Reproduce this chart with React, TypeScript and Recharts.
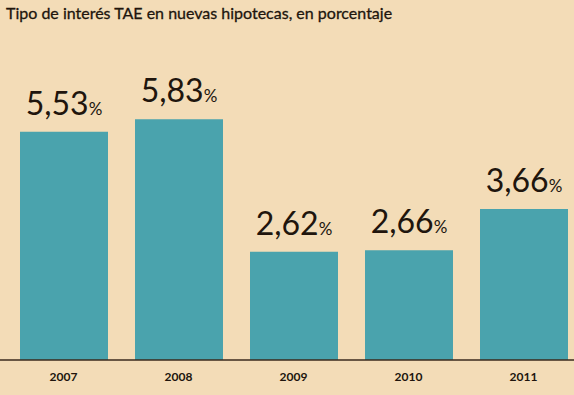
import { BarChart, Bar, XAxis, YAxis, LabelList } from "recharts";

const years = ["2007", "2008", "2009", "2010", "2011"];
const rates = [5.53, 5.83, 2.62, 2.66, 3.66];

const data = years.map((year, i) => ({ year, rate: rates[i] }));

const BG = "#f3dcb7";
const TEAL = "#4aa3ad";
const INK = "#20150d";

function ValueLabel(props: any) {
  const { x, y, width, value } = props;
  const txt = Number(value).toFixed(2).replace(".", ",");
  return (
    <text
      x={x + width / 2}
      y={y - 17}
      textAnchor="middle"
      fill={INK}
      fontFamily="Lato, sans-serif"
    >
      <tspan fontSize={32}>{txt}</tspan>
      <tspan fontSize={17}>%</tspan>
    </text>
  );
}

export default function App() {
  return (
    <div
      style={{
        position: "absolute",
        left: 0,
        top: 0,
        width: 574,
        height: 395,
        overflow: "hidden",
        background: BG,
      }}
    >
      <div
        style={{
          position: "absolute",
          left: 6,
          top: 3,
          fontFamily: "Lato, sans-serif",
          fontSize: 16,
          color: INK,
          whiteSpace: "nowrap",
          WebkitTextStroke: "0.3px " + INK,
        }}
      >
        Tipo de interés TAE en nuevas hipotecas, en porcentaje
      </div>
      <BarChart
        width={582}
        height={395}
        data={data}
        margin={{ top: 71, right: 0, bottom: 0, left: 0 }}
        barSize={88}
      >
        <XAxis
          dataKey="year"
          height={35}
          padding={{ left: 6, right: 1 }}
          axisLine={{ stroke: "#3a2a1c", strokeWidth: 1.5 }}
          tickLine={false}
          tickSize={0}
          tickMargin={12}
          tick={{
            fontSize: 12,
            fontWeight: 700,
            fill: INK,
            fontFamily: "Lato, sans-serif",
          }}
        />
        <YAxis hide domain={[0, 7]} />
        <Bar dataKey="rate" fill={TEAL} isAnimationActive={false}>
          <LabelList dataKey="rate" content={<ValueLabel />} />
        </Bar>
      </BarChart>
    </div>
  );
}
